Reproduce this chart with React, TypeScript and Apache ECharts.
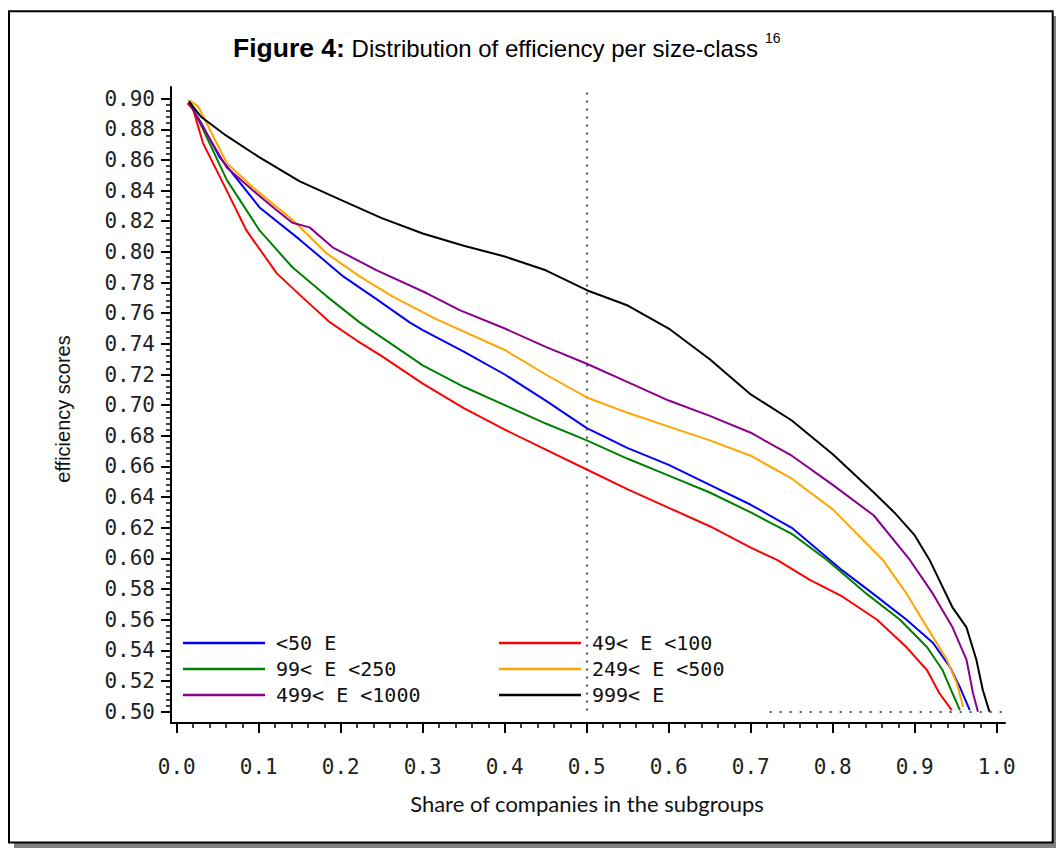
import { useEffect, useRef } from "react";
import * as echarts from "echarts";

// ---- Data ----
const seriesNames = ["<50 E", "49< E <100", "99< E <250", "249< E <500", "499< E <1000", "999< E"];
const seriesColors = ["#0000ff", "#ff0000", "#008000", "#ffa500", "#8b008b", "#000000"];

const xBlue = [0.015, 0.03, 0.052, 0.101, 0.15, 0.203, 0.244, 0.284, 0.3, 0.35, 0.4, 0.45, 0.5, 0.55, 0.6, 0.65, 0.7, 0.75, 0.812, 0.849, 0.89, 0.922, 0.943, 0.955, 0.967];
const yBlue = [0.897, 0.884, 0.862, 0.829, 0.808, 0.784, 0.769, 0.754, 0.749, 0.735, 0.72, 0.703, 0.685, 0.672, 0.661, 0.648, 0.635, 0.62, 0.592, 0.577, 0.56, 0.545, 0.529, 0.516, 0.501];

const xRed = [0.013, 0.02, 0.032, 0.061, 0.085, 0.122, 0.154, 0.187, 0.22, 0.25, 0.3, 0.35, 0.4, 0.45, 0.5, 0.55, 0.6, 0.65, 0.7, 0.732, 0.772, 0.812, 0.854, 0.89, 0.915, 0.93, 0.945];
const yRed = [0.897, 0.893, 0.871, 0.84, 0.814, 0.786, 0.77, 0.754, 0.742, 0.732, 0.714, 0.698, 0.684, 0.671, 0.658, 0.645, 0.633, 0.621, 0.607, 0.599, 0.586, 0.575, 0.56, 0.542, 0.527, 0.512, 0.501];

const xGreen = [0.015, 0.032, 0.061, 0.101, 0.141, 0.183, 0.223, 0.3, 0.35, 0.4, 0.45, 0.5, 0.55, 0.6, 0.65, 0.7, 0.75, 0.793, 0.841, 0.882, 0.915, 0.934, 0.946, 0.955];
const yGreen = [0.899, 0.88, 0.847, 0.814, 0.79, 0.771, 0.754, 0.726, 0.712, 0.7, 0.688, 0.677, 0.665, 0.654, 0.643, 0.63, 0.616, 0.599, 0.577, 0.56, 0.542, 0.527, 0.512, 0.501];

const xOrange = [0.015, 0.026, 0.061, 0.093, 0.141, 0.183, 0.223, 0.263, 0.317, 0.4, 0.45, 0.5, 0.55, 0.6, 0.65, 0.7, 0.75, 0.8, 0.861, 0.89, 0.915, 0.939, 0.951, 0.959];
const yOrange = [0.899, 0.895, 0.858, 0.842, 0.821, 0.799, 0.784, 0.771, 0.756, 0.736, 0.72, 0.705, 0.695, 0.686, 0.677, 0.667, 0.652, 0.632, 0.599, 0.577, 0.555, 0.534, 0.519, 0.503];

const xPurple = [0.015, 0.03, 0.061, 0.093, 0.12, 0.141, 0.162, 0.19, 0.244, 0.305, 0.345, 0.4, 0.45, 0.5, 0.55, 0.6, 0.65, 0.7, 0.75, 0.8, 0.85, 0.894, 0.922, 0.946, 0.963, 0.971, 0.977];
const yPurple = [0.898, 0.883, 0.855, 0.84, 0.828, 0.819, 0.816, 0.803, 0.788, 0.773, 0.762, 0.75, 0.738, 0.727, 0.715, 0.703, 0.693, 0.682, 0.667, 0.648, 0.628, 0.599, 0.577, 0.555, 0.534, 0.512, 0.5];

const xBlack = [0.015, 0.03, 0.06, 0.1, 0.15, 0.2, 0.25, 0.3, 0.35, 0.4, 0.45, 0.5, 0.55, 0.6, 0.65, 0.7, 0.75, 0.8, 0.85, 0.875, 0.9, 0.918, 0.946, 0.963, 0.975, 0.983, 0.991];
const yBlack = [0.898, 0.888, 0.876, 0.862, 0.846, 0.834, 0.822, 0.812, 0.804, 0.797, 0.788, 0.775, 0.765, 0.75, 0.73, 0.707, 0.69, 0.668, 0.643, 0.63, 0.615, 0.599, 0.568, 0.555, 0.534, 0.514, 0.5];

const xTickValues = [0, 0.1, 0.2, 0.3, 0.4, 0.5, 0.6, 0.7, 0.8, 0.9, 1.0];
const yTickValues = [0.5, 0.52, 0.54, 0.56, 0.58, 0.6, 0.62, 0.64, 0.66, 0.68, 0.7, 0.72, 0.74, 0.76, 0.78, 0.8, 0.82, 0.84, 0.86, 0.88, 0.9];
const xMinorTicks = [0, 0.02, 0.04, 0.06, 0.08, 0.1, 0.12, 0.14, 0.16, 0.18, 0.2, 0.22, 0.24, 0.26, 0.28, 0.3, 0.32, 0.34, 0.36, 0.38, 0.4, 0.42, 0.44, 0.46, 0.48, 0.5, 0.52, 0.54, 0.56, 0.58, 0.6, 0.62, 0.64, 0.66, 0.68, 0.7, 0.72, 0.74, 0.76, 0.78, 0.8, 0.82, 0.84, 0.86, 0.88, 0.9, 0.92, 0.94, 0.96, 0.98, 1.0];
const yMinorTicks = [0.5, 0.504, 0.508, 0.512, 0.516, 0.52, 0.524, 0.528, 0.532, 0.536, 0.54, 0.544, 0.548, 0.552, 0.556, 0.56, 0.564, 0.568, 0.572, 0.576, 0.58, 0.584, 0.588, 0.592, 0.596, 0.6, 0.604, 0.608, 0.612, 0.616, 0.62, 0.624, 0.628, 0.632, 0.636, 0.64, 0.644, 0.648, 0.652, 0.656, 0.66, 0.664, 0.668, 0.672, 0.676, 0.68, 0.684, 0.688, 0.692, 0.696, 0.7, 0.704, 0.708, 0.712, 0.716, 0.72, 0.724, 0.728, 0.732, 0.736, 0.74, 0.744, 0.748, 0.752, 0.756, 0.76, 0.764, 0.768, 0.772, 0.776, 0.78, 0.784, 0.788, 0.792, 0.796, 0.8, 0.804, 0.808, 0.812, 0.816, 0.82, 0.824, 0.828, 0.832, 0.836, 0.84, 0.844, 0.848, 0.852, 0.856, 0.86, 0.864, 0.868, 0.872, 0.876, 0.88, 0.884, 0.888, 0.892, 0.896, 0.9];

const xMin = -0.007;
const xMax = 1.01;
const yMin = 0.4926;
const yMax = 0.9076;
const medianShare = 0.5;
const vLineTop = 0.904;
const floorValue = 0.5;
const floorLineFrom = 0.723;
const floorLineTo = 1.006;

const titleBold = "Figure 4:";
const titleText = " Distribution of efficiency per size-class";
const titleNote = "16";
const xTitle = "Share of companies in the subgroups";
const yTitle = "efficiency scores";

const seriesX = [xBlue, xRed, xGreen, xOrange, xPurple, xBlack];
const seriesY = [yBlue, yRed, yGreen, yOrange, yPurple, yBlack];

const tickFont = "'DejaVu Sans Mono', monospace";
const arial = "'Liberation Sans', Arial, sans-serif";

export default function App() {
  const ref = useRef<HTMLDivElement>(null);
  useEffect(() => {
    document.body.style.margin = "0";
    const chart = echarts.init(ref.current!, null, { renderer: "svg" });
    const series: any[] = seriesNames.map((name, i) => ({
      name,
      type: "line",
      xAxisIndex: 0,
      yAxisIndex: 0,
      symbol: "none",
      showSymbol: false,
      smooth: false,
      lineStyle: { color: seriesColors[i], width: 2 },
      itemStyle: { color: seriesColors[i] },
      data: seriesX[i].map((x, j) => [x, seriesY[i][j]]),
      z: 3 + i,
    }));
    series[5].markLine = {
      silent: true,
      symbol: "none",
      label: { show: false },
      data: [
        [
          { coord: [medianShare, vLineTop], lineStyle: { type: [2, 6], color: "#555", width: 2 } },
          { coord: [medianShare, floorValue] },
        ],
        [
          { coord: [floorLineFrom, floorValue], lineStyle: { type: [2, 8], color: "#555", width: 2 } },
          { coord: [floorLineTo, floorValue] },
        ],
      ],
    };

    const legendBase = {
      orient: "vertical",
      top: 625,
      icon: "rect",
      itemWidth: 82,
      itemHeight: 2.5,
      itemGap: 0,
    };
    const legendText = { fontFamily: tickFont, fontSize: 20, color: "#111", lineHeight: 26 };

    chart.setOption({
      animation: false,
      backgroundColor: "#fff",
      grid: { left: 171, right: 51, top: 87, bottom: 125, containLabel: false },
      legend: [
        { ...legendBase, left: 178, textStyle: { ...legendText, padding: [0, 0, 0, 6] }, data: [seriesNames[0], seriesNames[2], seriesNames[4]] },
        { ...legendBase, left: 494, textStyle: { ...legendText, padding: [0, 0, 0, 6] }, data: [seriesNames[1], seriesNames[3], seriesNames[5]] },
      ],
      xAxis: [
        {
          type: "value",
          min: xMin,
          max: xMax,
          position: "bottom",
          axisLine: { show: true, onZero: false, lineStyle: { color: "#000", width: 2 } },
          axisTick: { show: true, customValues: xTickValues, length: 10, lineStyle: { color: "#000", width: 2 } },
          axisLabel: {
            customValues: xTickValues,
            formatter: (v: number) => v.toFixed(1),
            fontFamily: tickFont,
            fontSize: 21,
            color: "#222",
            margin: 33,
          },
          splitLine: { show: false },
        },
        {
          type: "value",
          min: xMin,
          max: xMax,
          position: "bottom",
          axisLine: { show: false, onZero: false },
          axisTick: { show: true, customValues: xMinorTicks, length: 5, lineStyle: { color: "#000", width: 1.5 } },
          axisLabel: { show: false },
          splitLine: { show: false },
        },
      ],
      yAxis: [
        {
          type: "value",
          min: yMin,
          max: yMax,
          position: "left",
          axisLine: { show: true, onZero: false, lineStyle: { color: "#000", width: 2 } },
          axisTick: { show: true, customValues: yTickValues, length: 10, lineStyle: { color: "#000", width: 2 } },
          axisLabel: {
            customValues: yTickValues,
            formatter: (v: number) => v.toFixed(2),
            fontFamily: tickFont,
            fontSize: 21,
            color: "#222",
            margin: 16,
          },
          splitLine: { show: false },
        },
        {
          type: "value",
          min: yMin,
          max: yMax,
          position: "left",
          axisLine: { show: false, onZero: false },
          axisTick: { show: true, customValues: yMinorTicks, length: 5, lineStyle: { color: "#000", width: 1.5 } },
          axisLabel: { show: false },
          splitLine: { show: false },
        },
      ],
      graphic: [
        { type: "rect", z: -20, silent: true, shape: { x: 14, y: 16, width: 1042, height: 832 }, style: { fill: "#808080" } },
        { type: "rect", z: -10, silent: true, shape: { x: 9, y: 11.3, width: 1043.7, height: 831.2 }, style: { fill: "#fff", stroke: "#000", lineWidth: 2 } },
        {
          type: "text",
          x: 233,
          y: 48,
          style: {
            text: "{b|" + titleBold + "}{n|" + titleText + "}",
            fill: "#000",
            verticalAlign: "middle",
            rich: {
              b: { fontWeight: "bold", fontSize: 26.5, fontFamily: arial, fill: "#000" },
              n: { fontSize: 24, fontFamily: arial, fill: "#000" },
            },
          },
        },
        {
          type: "text",
          x: 765,
          y: 38,
          style: { text: titleNote, fontFamily: arial, fontSize: 14, fill: "#000", verticalAlign: "middle" },
        },
        {
          type: "text",
          x: 587,
          y: 803,
          style: { text: xTitle, fontFamily: "Lato, sans-serif", fontSize: 22, fill: "#111", align: "center", verticalAlign: "middle" },
        },
        {
          type: "text",
          x: 63,
          y: 409,
          rotation: Math.PI / 2,
          style: { text: yTitle, fontFamily: arial, fontSize: 20, fill: "#111", align: "center", verticalAlign: "middle" },
        },
      ],
      series,
    });
    return () => chart.dispose();
  }, []);
  return <div ref={ref} style={{ position: "fixed", left: 0, top: 0, width: 1056, height: 848, background: "#fff" }} />;
}
